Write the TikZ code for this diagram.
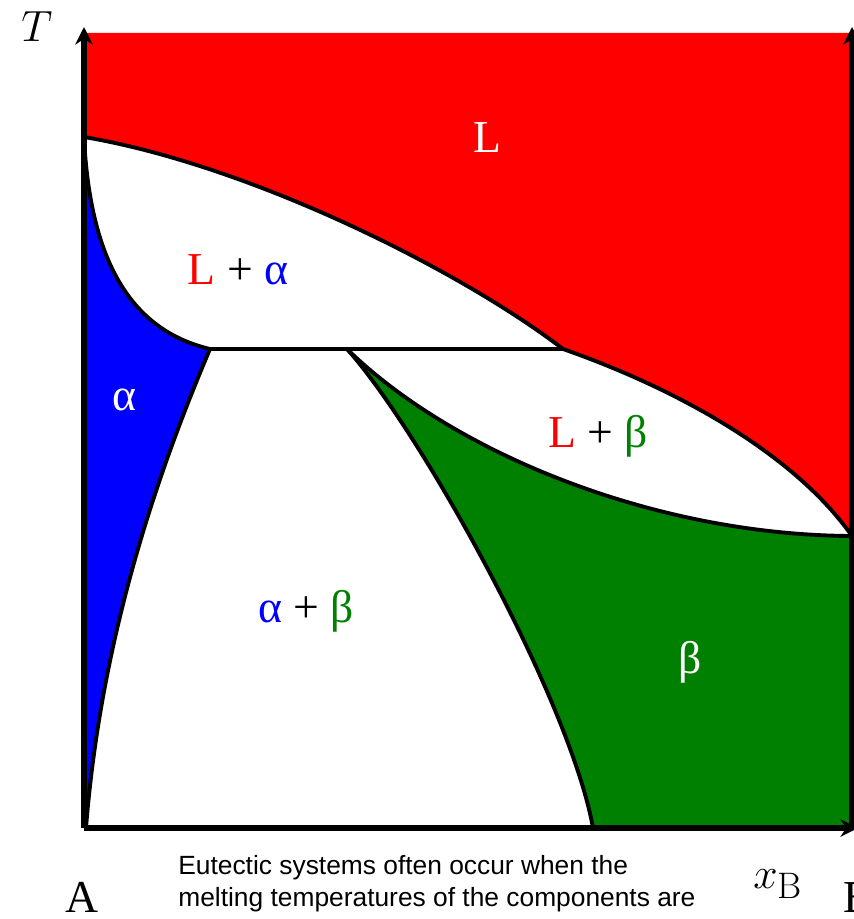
\documentclass[tikz,border=0pt]{standalone}
\usepackage{fontspec}
\usepackage{tikz}
\usetikzlibrary{arrows.meta}
\newfontfamily\phasefont{Liberation Serif}
\newfontfamily\notefont{Liberation Sans}
\definecolor{liqred}{RGB}{255,0,0}
\definecolor{alphablue}{RGB}{0,0,255}
\definecolor{betagreen}{RGB}{0,128,0}

\begin{document}
\begin{tikzpicture}[x=0.02cm, y=-0.02cm]
    \tikzset{
        boundary/.style={draw=black, line width=2.2pt, line join=round},
        axis/.style={draw=black, line width=3pt, -{Stealth[length=10pt,width=10pt]}},
        phase/.style={font=\fontsize{26}{28}\selectfont\phasefont, inner sep=0pt, anchor=base},
        note/.style={font=\fontsize{15}{18.5}\selectfont\notefont, align=left, inner sep=0pt}
    }
    \useasboundingbox (0,0) rectangle (854,919);

    % Key points of the diagram
    \coordinate (O) at (84,828);
    \coordinate (TA) at (84,137);
    \coordinate (TB) at (852,536);
    \coordinate (E) at (563,349);
    \coordinate (Ea) at (210,349);
    \coordinate (Eb) at (347,349);
    \coordinate (Sa) at (86,828);
    \coordinate (Sb) at (593,828);
    \coordinate (BR) at (852,828);

    % Single phase regions
    \fill[liqred] (84,33) -- (852,33) -- (TB) .. controls (795,455) and (680,390) .. (E)
        .. controls (460,270) and (250,165) .. (TA) -- cycle;
    \fill[alphablue] (TA) .. controls (90,260) and (130,330) .. (Ea)
        .. controls (150,490) and (100,650) .. (Sa) -- (O) -- cycle;
    \fill[betagreen] (Eb) .. controls (450,450) and (650,535) .. (TB) -- (BR) -- (Sb)
        .. controls (570,700) and (420,430) .. (Eb) -- cycle;

    % Phase boundaries
    \draw[boundary] (TA) .. controls (250,165) and (460,270) .. (E)
        .. controls (680,390) and (795,455) .. (TB);
    \draw[boundary] (TA) .. controls (90,260) and (130,330) .. (Ea)
        .. controls (150,490) and (100,650) .. (Sa);
    \draw[boundary] (Ea) -- (E);
    \draw[boundary] (Eb) .. controls (450,450) and (650,535) .. (TB);
    \draw[boundary] (Eb) .. controls (420,430) and (570,700) .. (Sb);

    % Axes
    \draw[axis] (O) -- (84,27);
    \draw[axis] (O) -- (858,828);
    \draw[axis] (BR) -- (852,27);

    % Phase labels
    \node[phase, text=white] (liq) at (487,153) {L};
    \node[phase] (liqalpha) at (238,284) {{\color{liqred}L} + {\color{alphablue}α}};
    \node[phase, text=white] (alpha) at (124,410) {α};
    \node[phase] (liqbeta) at (598,447) {{\color{liqred}L} + {\color{betagreen}β}};
    \node[phase] (alphabeta) at (306,622) {{\color{alphablue}α} + {\color{betagreen}β}};
    \node[phase, text=white] (beta) at (690,673) {β};

    % Axis labels
    \node[phase] (tlabel) at (37,42) {$T$};
    \node[phase, font=\fontsize{30}{32}\selectfont] (xlabel) at (778,888) {$x_{\mathrm{B}}$};
    \node[phase] (alabel) at (82,912) {A};
    \node[phase, anchor=base west] (blabel) at (843,912) {B};

    % Caption text
    \node[note, anchor=north west] (note) at (178,855)
        {Eutectic systems often occur when the\\melting temperatures of the components are};
\end{tikzpicture}
\end{document}
